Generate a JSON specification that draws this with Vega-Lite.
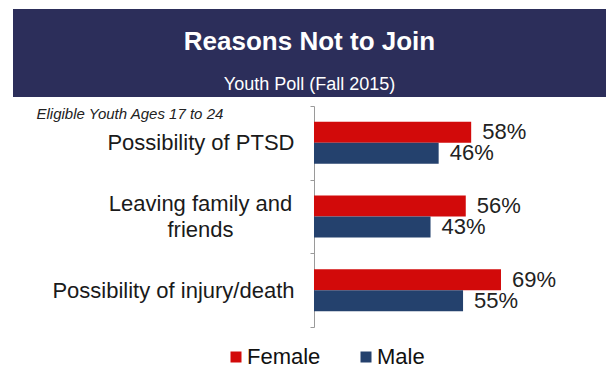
{
  "$schema": "https://vega.github.io/schema/vega-lite/v6.json",
  "background": "white",
  "padding": {"left": 13, "top": 9, "right": 0, "bottom": 0},
  "spacing": -2,
  "resolve": {"scale": {"color": "independent"}, "legend": {"color": "independent"}},
  "config": {
    "font": "Liberation Sans",
    "view": {"stroke": null}
  },
  "vconcat": [
    {
      "width": 593,
      "height": 88,
      "view": {"fill": "#2c2e5a", "stroke": null},
      "layer": [
        {
          "data": {"values": [{"role": "title", "text": "Reasons Not to Join"}]},
          "mark": {"type": "text", "font": "Liberation Sans", "fontSize": 26, "fontWeight": "bold", "color": "white", "baseline": "middle", "align": "center"},
          "encoding": {
            "y": {"field": "role", "type": "nominal", "axis": null, "scale": {"type": "point", "domain": ["title", "subtitle"], "padding": 0.523, "align": 0.733}},
            "text": {"field": "text", "type": "nominal"}
          }
        },
        {
          "data": {"values": [{"role": "subtitle", "text": "Youth Poll (Fall 2015)"}]},
          "mark": {"type": "text", "font": "Liberation Sans", "fontSize": 18, "color": "white", "baseline": "middle", "align": "center"},
          "encoding": {
            "y": {"field": "role", "type": "nominal", "axis": null, "scale": {"type": "point", "domain": ["title", "subtitle"], "padding": 0.523, "align": 0.733}},
            "text": {"field": "text", "type": "nominal"}
          }
        }
      ]
    },
    {
      "width": 593,
      "height": 221,
      "data": {
        "values": [
          {"reason": "Possibility of PTSD", "gender": "Female", "value": 0.58},
          {"reason": "Possibility of PTSD", "gender": "Male", "value": 0.46},
          {"reason": "Leaving family and friends", "gender": "Female", "value": 0.56},
          {"reason": "Leaving family and friends", "gender": "Male", "value": 0.43},
          {"reason": "Possibility of injury/death", "gender": "Female", "value": 0.69},
          {"reason": "Possibility of injury/death", "gender": "Male", "value": 0.55}
        ]
      },
      "encoding": {
        "y": {
          "field": "reason",
          "type": "nominal",
          "sort": null,
          "title": "Eligible Youth Ages 17 to 24",
          "scale": {"paddingInner": 0, "paddingOuter": 0},
          "axis": {
            "offset": -301,
            "titleAngle": 0,
            "titleX": -278,
            "titleY": 7,
            "titleAlign": "left",
            "titleBaseline": "middle",
            "titleFontSize": 15,
            "titleFontStyle": "italic",
            "titleFontWeight": "normal",
            "titleColor": "#222222",
            "titleFont": "Liberation Sans",
            "labelFontSize": 22,
            "labelFont": "Liberation Sans",
            "labelColor": "#1a1a1a",
            "labelPadding": {"condition": {"test": "datum.value == 'Leaving family and friends'", "value": 110}, "value": 16},
            "labelAlign": {"condition": {"test": "datum.value == 'Leaving family and friends'", "value": "center"}, "value": "right"},
            "labelLimit": 0,
            "labelLineHeight": 26,
            "labelOffset": {"condition": {"test": "datum.value == 'Leaving family and friends'", "value": -13}, "value": 0},
            "tickSize": 4,
            "tickColor": "#9a9a9a",
            "domainColor": "#9a9a9a",
            "tickBand": "extent",
            "labelExpr": "datum.value == 'Leaving family and friends' ? ['Leaving family and', 'friends'] : datum.value"
          }
        },
        "yOffset": {
          "field": "gender",
          "type": "nominal",
          "sort": ["Female", "Male"],
          "scale": {"paddingInner": 0, "paddingOuter": 0.757}
        },
        "x": {
          "field": "value",
          "type": "quantitative",
          "scale": {"domain": [-1.1107, 1.0775], "zero": true, "nice": false},
          "axis": null
        }
      },
      "layer": [
        {
          "mark": {"type": "bar"},
          "encoding": {
            "color": {
              "field": "gender",
              "type": "nominal",
              "scale": {"domain": ["Female", "Male"], "range": ["#d20a0a", "#24416d"]},
              "legend": {
                "title": null,
                "orient": "none",
                "legendX": 212,
                "legendY": 240,
                "direction": "horizontal",
                "symbolType": "square",
                "symbolSize": 121,
                "symbolStrokeWidth": 0,
                "labelFontSize": 22,
                "labelFont": "Liberation Sans",
                "labelColor": "#111111",
                "labelOffset": 0,
                "columnPadding": 34,
                "padding": 0
              }
            }
          }
        },
        {
          "mark": {"type": "text", "align": "left", "baseline": "middle", "dx": 11, "fontSize": 22, "font": "Liberation Sans", "color": "#222222"},
          "encoding": {
            "text": {"field": "value", "type": "quantitative", "format": ".0%"}
          }
        }
      ]
    }
  ]
}
